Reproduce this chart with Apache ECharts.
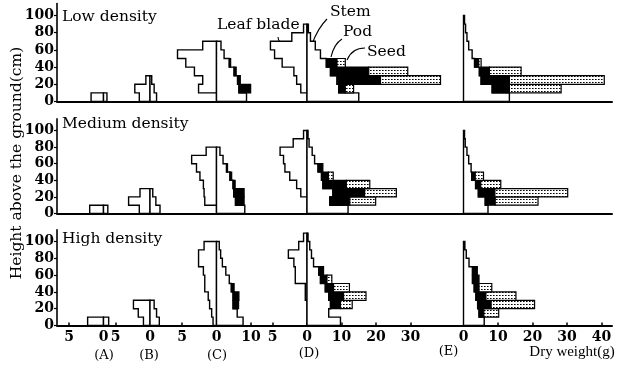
<!DOCTYPE html>
<html><head><meta charset="utf-8">
<script src="https://cdn.jsdelivr.net/npm/echarts@6/dist/echarts.min.js"></script>
<style>html,body{margin:0;padding:0;background:#fff}#c{width:617px;height:366px}</style>
</head><body><div id="c"></div>
<script>
// ---------------- DATA (dry weight in g per 10 cm layer, bottom → top) ----------------
const densities = ['Low density', 'Medium density', 'High density'];
const stages = ['(A)', '(B)', '(C)', '(D)', '(E)'];
const layerHeight = 10;                 // cm per stratum
const yTickValues = [0, 20, 40, 60, 80, 100];
const leafTickLabels = [[5], [5], [5], [5], []];          // left (leaf blade) side
const organTickLabels = [[0], [0], [0, 10], [0, 10, 20, 30], [0, 10, 20, 30, 40]];

// Low density, panels A–E
const lowLeaf = [[1.8], [1.55, 2.2, 0.6], [0, 2.6, 2.0, 3.2, 4.45, 5.65, 2.0], [0, 0.9, 1.5, 1.9, 3.6, 4.7, 5.3, 2.2, 0.5], []];
const lowStem = [[1.0], [1.9, 1.2, 0.5], [8.7, 6.5, 6.1, 5.1, 3.7, 2.2, 1.3], [15.0, 9.2, 8.7, 6.8, 5.6, 3.9, 2.4, 1.0, 0.4], [13.3, 8.3, 5.1, 4.6, 3.2, 2.5, 1.5, 1.0, 0.6, 0.3]];
const lowPod = [[], [], [0, 3.4, 0.8, 0.6, 0.4], [0, 1.9, 12.6, 11.1, 3.1], [0, 5.0, 8.2, 2.9, 1.2]];
const lowSeed = [[], [], [], [0, 2.4, 17.4, 11.3, 2.4], [0, 15.0, 27.5, 9.2, 0.7]];

// Medium density
const medLeaf = [[2.0], [1.55, 3.1, 1.45], [0, 1.7, 1.8, 1.9, 2.4, 2.9, 3.6, 1.5], [0, 0, 0.9, 1.5, 2.5, 3.2, 3.4, 3.9, 2.0, 0.5], []];
const medStem = [[1.25], [2.9, 1.7, 0.8], [8.2, 5.5, 5.0, 4.8, 3.9, 2.9, 1.9, 1.0], [11.9, 6.6, 7.5, 4.6, 4.2, 3.2, 2.2, 1.5, 0.6, 0.3], [7.1, 6.3, 4.3, 3.5, 2.4, 2.2, 1.5, 1.0, 0.5, 0.3]];
const medPod = [[], [], [0, 2.5, 3.0, 0.6, 0.5, 0.3], [0, 5.8, 9.2, 6.8, 2.0, 1.4], [0, 2.9, 4.8, 1.5, 1.0]];
const medSeed = [[], [], [], [0, 7.5, 9.2, 6.8, 1.4], [0, 12.4, 21.1, 5.8, 2.4]];

// High density
const highLeaf = [[2.3], [0.95, 1.7, 2.4], [0.5, 0.7, 1.0, 1.2, 1.7, 1.7, 1.9, 2.6, 2.6, 1.8], [0, 0, 0, 0.25, 0.25, 1.7, 1.7, 1.9, 2.7, 1.2, 0.5], []];
const highStem = [[1.5], [2.7, 1.9, 1.2], [7.7, 6.0, 4.8, 4.8, 4.3, 3.7, 2.7, 1.7, 1.2, 0.8], [9.7, 6.3, 6.8, 6.3, 5.3, 3.9, 3.4, 1.9, 1.3, 0.8, 0.3], [6.0, 4.5, 4.1, 3.6, 3.1, 2.6, 2.6, 1.6, 0.8, 0.4]];
const highPod = [[], [], [0, 0, 1.6, 1.7, 0.8], [0, 0, 2.9, 4.3, 2.4, 1.9, 1.4], [0, 1.4, 3.9, 2.9, 1.4, 1.9, 1.4]];
const highSeed = [[], [], [], [0, 0, 3.4, 6.5, 4.6, 1.4], [0, 4.3, 12.6, 8.7, 3.7]];

// ---------------- LAYOUT / STYLE ----------------
const LEAF_SCALE = 2;                    // leaf side is drawn at double scale (5 g ↔ 10 g)
const K = 3.45;                          // px per axis unit
const zeroPx = [103.5, 150, 216.5, 307, 463.5];
const bounds = [57, 112, 168, 258, 448, 612];
const rowGround = [101.5, 213.5, 325.5];
const rowPxPerCm = [0.86, 0.83, 0.84];
const YMAX = 114;
const SERIF = '"DejaVu Serif", "Liberation Serif", serif';

const dot = document.createElement('canvas'); dot.width = 3; dot.height = 3;
const dctx = dot.getContext('2d');
dctx.fillStyle = '#fff'; dctx.fillRect(0, 0, 3, 3);
dctx.fillStyle = '#000'; dctx.fillRect(1, 1, 1, 1); dctx.fillStyle = '#666'; dctx.fillRect(2, 1, 1, 1);
const SEED_FILL = { image: dot, repeat: 'repeat' };

const rowsData = [
  [lowLeaf, lowStem, lowPod, lowSeed],
  [medLeaf, medStem, medPod, medSeed],
  [highLeaf, highStem, highPod, highSeed]
];

function makeRender(leaf, stem, pod, seed) {
  return function (params, api) {
    const children = [];
    const pt = (x, y) => api.coord([x, y]);
    const line = { stroke: '#000', lineWidth: 1.4, lineJoin: 'miter' };
    if (leaf.length) {
      const pts = [pt(0, 0)];
      leaf.forEach((v, i) => { pts.push(pt(-LEAF_SCALE * v, i * layerHeight)); pts.push(pt(-LEAF_SCALE * v, (i + 1) * layerHeight)); });
      pts.push(pt(0, leaf.length * layerHeight));
      children.push({ type: 'polygon', shape: { points: pts }, style: Object.assign({ fill: '#fff' }, line) });
    }
    if (stem.length) {
      const pts = [pt(0, 0)];
      stem.forEach((v, i) => { pts.push(pt(v, i * layerHeight)); pts.push(pt(v, (i + 1) * layerHeight)); });
      pts.push(pt(0, stem.length * layerHeight));
      children.push({ type: 'polygon', shape: { points: pts }, style: Object.assign({ fill: '#fff' }, line) });
    }
    const rect = (x0, x1, i, fill) => {
      const a = pt(x0, (i + 1) * layerHeight), b = pt(x1, i * layerHeight);
      children.push({ type: 'rect', shape: { x: a[0], y: a[1], width: b[0] - a[0], height: b[1] - a[1] },
        style: { fill: fill, stroke: '#000', lineWidth: 1.2 } });
    };
    stem.forEach((s, i) => {
      const p = pod[i] || 0, d = seed[i] || 0;
      if (p > 0) rect(s, s + p, i, '#000');
      if (d > 0) rect(s + p, s + p + d, i, SEED_FILL);
    });
    return { type: 'group', children };
  };
}

const grids = [], xAxes = [], yAxes = [], series = [];
let gi = 0;
for (let r = 0; r < 3; r++) {
  for (let p = 0; p < 5; p++) {
    const h = YMAX * rowPxPerCm[r];
    grids.push({ left: bounds[p], width: bounds[p + 1] - bounds[p], top: rowGround[r] - h, height: h,
      containLabel: false, outerBoundsMode: 'none' });
    const tickVals = leafTickLabels[p].map(v => -LEAF_SCALE * v).concat(organTickLabels[p]);
    xAxes.push({
      type: 'value', gridIndex: gi,
      min: (bounds[p] - zeroPx[p]) / K, max: (bounds[p + 1] - zeroPx[p]) / K,
      axisLine: { show: true, onZero: false, lineStyle: { color: '#000', width: 2 } },
      axisTick: { show: r === 2, inside: true, length: 3, customValues: tickVals, lineStyle: { color: '#000', width: 1.5 } },
      axisLabel: { show: r === 2, customValues: tickVals, margin: 5, color: '#000',
        fontFamily: SERIF, fontSize: 14, fontWeight: 'bold',
        formatter: v => String(v < 0 ? Math.round(-v / LEAF_SCALE) : Math.round(v)) },
      splitLine: { show: false }
    });
    yAxes.push({
      type: 'value', gridIndex: gi, min: 0, max: YMAX, show: p === 0,
      axisLine: { show: true, onZero: false, lineStyle: { color: '#000', width: 1.6 } },
      axisTick: { show: true, length: 3, customValues: yTickValues, lineStyle: { color: '#000', width: 1.2 } },
      axisLabel: { customValues: yTickValues, margin: 3, color: '#000', fontFamily: SERIF, fontSize: 14, fontWeight: 'bold' },
      splitLine: { show: false }
    });
    const d = rowsData[r];
    series.push({ type: 'custom', coordinateSystem: 'cartesian2d', xAxisIndex: gi, yAxisIndex: gi,
      data: [[0, 0]], clip: false, silent: true,
      renderItem: makeRender(d[0][p], d[1][p], d[2][p], d[3][p]) });
    gi++;
  }
}

const txt = (text, x, y, opts) => Object.assign({ type: 'text', x: x, y: y, silent: true,
  style: Object.assign({ text: text, fill: '#000', font: '15.5px ' + SERIF, align: 'left', verticalAlign: 'middle' }, opts || {}) });
const curve = (x1, y1, cx, cy, x2, y2) => ({ type: 'bezierCurve', silent: true,
  shape: { x1: x1, y1: y1, cpx1: cx, cpy1: cy, x2: x2, y2: y2 }, style: { stroke: '#000', lineWidth: 1.1, fill: null } });

const densityLabelY = [17, 124, 239];
const stageLabelX = [104, 149, 217, 309, 448.5];
const stageLabelY = [356, 356, 356, 354, 352];

const graphic = [];
densities.forEach((t, i) => graphic.push(txt(t, 62, densityLabelY[i])));
stages.forEach((t, i) => graphic.push(txt(t, stageLabelX[i], stageLabelY[i], { align: 'center', font: '13px ' + SERIF })));
graphic.push(txt('Dry weight(g)', 572, 352, { align: 'center', font: '15px "Liberation Serif", serif' }));
graphic.push(Object.assign(txt('Height above the ground(cm)', 17, 163, { align: 'center', font: '15.5px ' + SERIF }), { rotation: Math.PI / 2 }));
graphic.push(txt('Leaf blade', 217, 25));
graphic.push(txt('Stem', 330, 12));
graphic.push(txt('Pod', 343, 32));
graphic.push(txt('Seed', 367, 52));
graphic.push(curve(278, 37, 278, 43, 287, 46));
graphic.push(curve(327, 19, 318, 28, 312, 44));
graphic.push(curve(342, 39, 334, 44, 331, 57));
graphic.push(curve(365, 48, 352, 48, 347, 60));

const chart = echarts.init(document.getElementById('c'), null, { renderer: 'canvas' });
chart.setOption({
  animation: false,
  backgroundColor: '#fff',
  grid: grids, xAxis: xAxes, yAxis: yAxes, series: series, graphic: graphic
});
</script></body></html>
